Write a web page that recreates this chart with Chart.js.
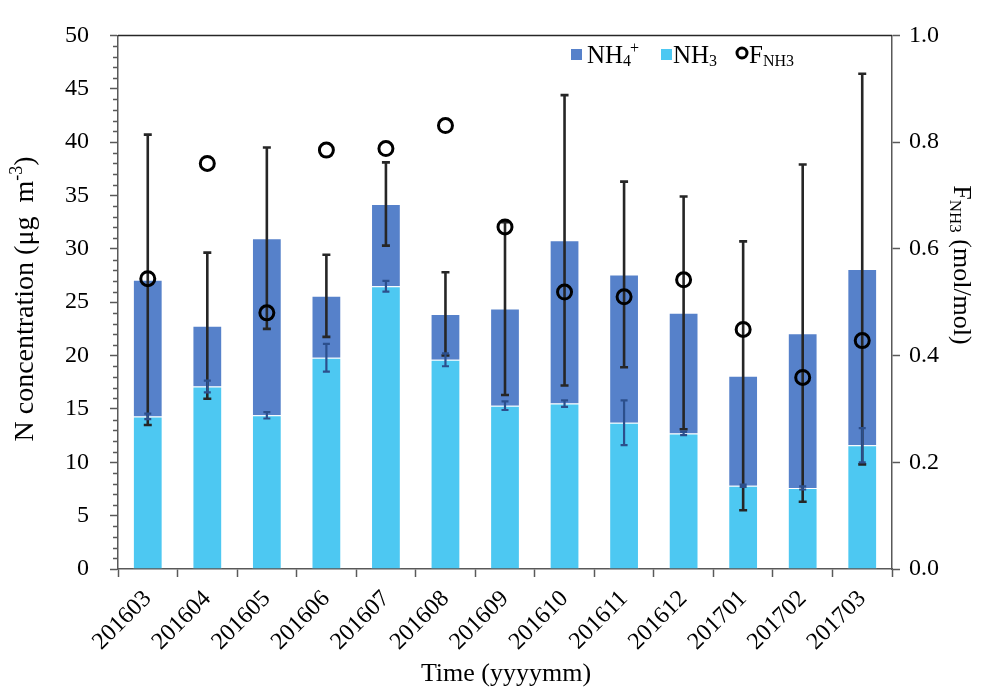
<!DOCTYPE html>
<html>
<head>
<meta charset="utf-8">
<script src="https://cdn.jsdelivr.net/npm/chart.js@4"></script>
<style>
  html, body { margin: 0; padding: 0; background: #fff; }
  #wrap { width: 988px; height: 688px; }
</style>
</head>
<body>
<div id="wrap"><canvas id="chart" width="988" height="688"></canvas></div>
<script>
// Monthly campaign, March 2016 – March 2017
const months = ['201603', '201604', '201605', '201606', '201607', '201608', '201609',
                '201610', '201611', '201612', '201701', '201702', '201703'];

// N concentration (µg m-3): NH3 at the bottom, NH4+ stacked above it
const nh3 = [14.3, 17.1, 14.4, 19.8, 26.5, 19.6, 15.3, 15.5, 13.7, 12.7, 7.8, 7.6, 11.6];
const nh4 = [12.8, 5.7, 16.6, 5.8, 7.7, 4.3, 9.1, 15.3, 13.9, 11.3, 10.3, 14.5, 16.5];

// standard deviations: NH3 alone, and NH3 + NH4+ together
const nh3Sd = [0.25, 0.55, 0.3, 1.3, 0.5, 0.6, 0.4, 0.3, 2.1, 0.15, 0.1, 0.15, 1.6];
const totalSd = [13.6, 6.85, 8.5, 3.85, 3.9, 3.9, 8.1, 13.6, 8.7, 10.9, 12.6, 15.8, 18.3];

// gas fraction F_NH3 (mol/mol), right axis
const fNh3 = [0.544, 0.760, 0.480, 0.785, 0.788, 0.831, 0.641, 0.519, 0.510, 0.542, 0.449, 0.359, 0.428];

// axis ranges and tick steps
const concRange = [0, 50], concStep = 5, concMinorStep = 1;
const fracRange = [0, 1], fracStep = 0.2;

const SERIF = '"Liberation Serif", "Times New Roman", serif';
const AXIS = '#595959';
const DARK = '#5681CA';
const LIGHT = '#4DC8F2';

// text runs with sub/superscripts: [text, size, baselineShift]
function runWidth(ctx, runs) {
  let w = 0;
  for (const [t, s] of runs) { ctx.font = s + 'px ' + SERIF; w += ctx.measureText(t).width; }
  return w;
}
function drawRuns(ctx, runs, x, y) {
  for (const [t, s, dy] of runs) {
    ctx.font = s + 'px ' + SERIF;
    ctx.fillText(t, x, y + dy);
    x += ctx.measureText(t).width;
  }
}

const decor = {
  id: 'decor',
  beforeDatasetDraw(chart, args) {
    // error bars go under the F_NH3 circles
    if (args.index !== 2) return;
    const ctx = chart.ctx, y = chart.scales.y;
    const bars = chart.getDatasetMeta(1).data;
    const whisker = (x, lo, hi, color, lw, cap) => {
      const yl = y.getPixelForValue(lo), yh = y.getPixelForValue(hi);
      ctx.strokeStyle = color; ctx.lineWidth = lw; ctx.lineCap = 'butt';
      ctx.beginPath();
      ctx.moveTo(x, yl); ctx.lineTo(x, yh);
      ctx.moveTo(x - cap, yl); ctx.lineTo(x + cap, yl);
      ctx.moveTo(x - cap, yh); ctx.lineTo(x + cap, yh);
      ctx.stroke();
    };
    ctx.save();
    bars.forEach((b, i) => {
      const top = nh3[i] + nh4[i];
      whisker(b.x, top - totalSd[i], top + totalSd[i], '#262626', 2.6, 4);
    });
    bars.forEach((b, i) => {
      whisker(b.x, nh3[i] - nh3Sd[i], nh3[i] + nh3Sd[i], '#2C4F8C', 2.2, 3.5);
    });
    ctx.restore();
  },
  afterDraw(chart) {
    const ctx = chart.ctx, a = chart.chartArea, y = chart.scales.y;
    ctx.save();
    // frame line along the top of the plot
    ctx.strokeStyle = '#262626'; ctx.lineWidth = 1.5;
    ctx.beginPath(); ctx.moveTo(a.left, a.top); ctx.lineTo(a.right, a.top); ctx.stroke();
    // minor ticks on the concentration axis
    ctx.strokeStyle = AXIS; ctx.lineWidth = 1.5;
    ctx.beginPath();
    for (let v = concRange[0]; v <= concRange[1]; v += concMinorStep) {
      if (v % concStep === 0) continue;
      const py = Math.round(y.getPixelForValue(v)) + 0.5;
      ctx.moveTo(a.left - 5, py); ctx.lineTo(a.left, py);
    }
    ctx.stroke();

    ctx.fillStyle = '#000';
    ctx.textBaseline = 'alphabetic';
    ctx.textAlign = 'left';

    // legend
    ctx.fillStyle = DARK; ctx.fillRect(571, 49, 11, 11);
    ctx.fillStyle = LIGHT; ctx.fillRect(661, 49, 11, 11);
    ctx.fillStyle = '#000';
    drawRuns(ctx, [['NH', 25, 0], ['4', 16, 3]], 587, 63);
    drawRuns(ctx, [['+', 16, -10]], 630, 63);
    drawRuns(ctx, [['NH', 25, 0], ['3', 16, 3]], 673, 63);
    ctx.strokeStyle = '#000'; ctx.lineWidth = 3;
    ctx.beginPath(); ctx.arc(742, 53, 5, 0, Math.PI * 2); ctx.stroke();
    drawRuns(ctx, [['F', 25, 0], ['NH3', 16, 3]], 749, 63);

    // x axis title
    const xt = [['Time (yyyymm)', 26, 0]];
    drawRuns(ctx, xt, 506 - runWidth(ctx, xt) / 2, 681);

    // left axis title
    const lt = [['N concentration (\u03bcg  m', 28, 0], ['-3', 18, -11], [')', 28, 0]];
    ctx.save();
    ctx.translate(33, 299); ctx.rotate(-Math.PI / 2);
    drawRuns(ctx, lt, -runWidth(ctx, lt) / 2, 0);
    ctx.restore();

    // right axis title
    const rt = [['F', 26, 0], ['NH3', 17, 4], [' (mol/mol)', 26, 0]];
    ctx.save();
    ctx.translate(954, 265); ctx.rotate(Math.PI / 2);
    drawRuns(ctx, rt, -runWidth(ctx, rt) / 2, 0);
    ctx.restore();
    ctx.restore();
  }
};

const tickFont = { family: SERIF, size: 24 };

new Chart(document.getElementById('chart'), {
  type: 'bar',
  data: {
    labels: months,
    datasets: [
      { label: 'NH3', data: nh3, backgroundColor: LIGHT, stack: 'n', order: 1,
        borderColor: 'rgba(255,255,255,0.35)', borderWidth: 1, borderSkipped: 'bottom' },
      { label: 'NH4+', data: nh4, backgroundColor: DARK, stack: 'n', order: 1,
        borderColor: 'rgba(255,255,255,0.35)', borderWidth: 1, borderSkipped: 'bottom' },
      { type: 'line', label: 'F_NH3', data: fNh3, yAxisID: 'y1', order: 0,
        showLine: false, pointStyle: 'circle', pointRadius: 7, pointHoverRadius: 7,
        pointBorderWidth: 3, borderColor: '#000', backgroundColor: 'rgba(0,0,0,0)' }
    ]
  },
  options: {
    responsive: false,
    animation: false,
    devicePixelRatio: 1,
    layout: { padding: { top: 24, left: 0, right: 0, bottom: 0 } },
    datasets: { bar: { barPercentage: 0.5, categoryPercentage: 1.0 } },
    plugins: { legend: { display: false }, tooltip: { enabled: false } },
    scales: {
      x: {
        stacked: true,
        offset: true,
        grid: { display: true, offset: true, drawOnChartArea: false, tickLength: 8,
                tickColor: AXIS, tickWidth: 1.5 },
        border: { display: true, color: AXIS, width: 1.5 },
        ticks: { font: { family: SERIF, size: 24 }, color: '#000', minRotation: 45, maxRotation: 45,
                 padding: 8, autoSkip: false },
        afterFit(s) { s.height = 119; }
      },
      y: {
        stacked: true,
        position: 'left',
        min: concRange[0], max: concRange[1],
        grid: { display: true, drawOnChartArea: false, tickLength: 8, tickColor: AXIS, tickWidth: 1.5 },
        border: { display: true, color: AXIS, width: 1.5 },
        ticks: { stepSize: concStep, font: tickFont, color: '#000', padding: 21 },
        afterFit(s) { s.width = 118; }
      },
      y1: {
        position: 'right',
        min: fracRange[0], max: fracRange[1],
        grid: { display: true, drawOnChartArea: false, tickLength: 8, tickColor: AXIS, tickWidth: 1.5 },
        border: { display: true, color: AXIS, width: 1.5 },
        ticks: { stepSize: fracStep, font: tickFont, color: '#000', padding: 9,
                 callback: v => Number(v).toFixed(1) },
        afterFit(s) { s.width = 96; }
      }
    }
  },
  plugins: [decor]
});
</script>
</body>
</html>
